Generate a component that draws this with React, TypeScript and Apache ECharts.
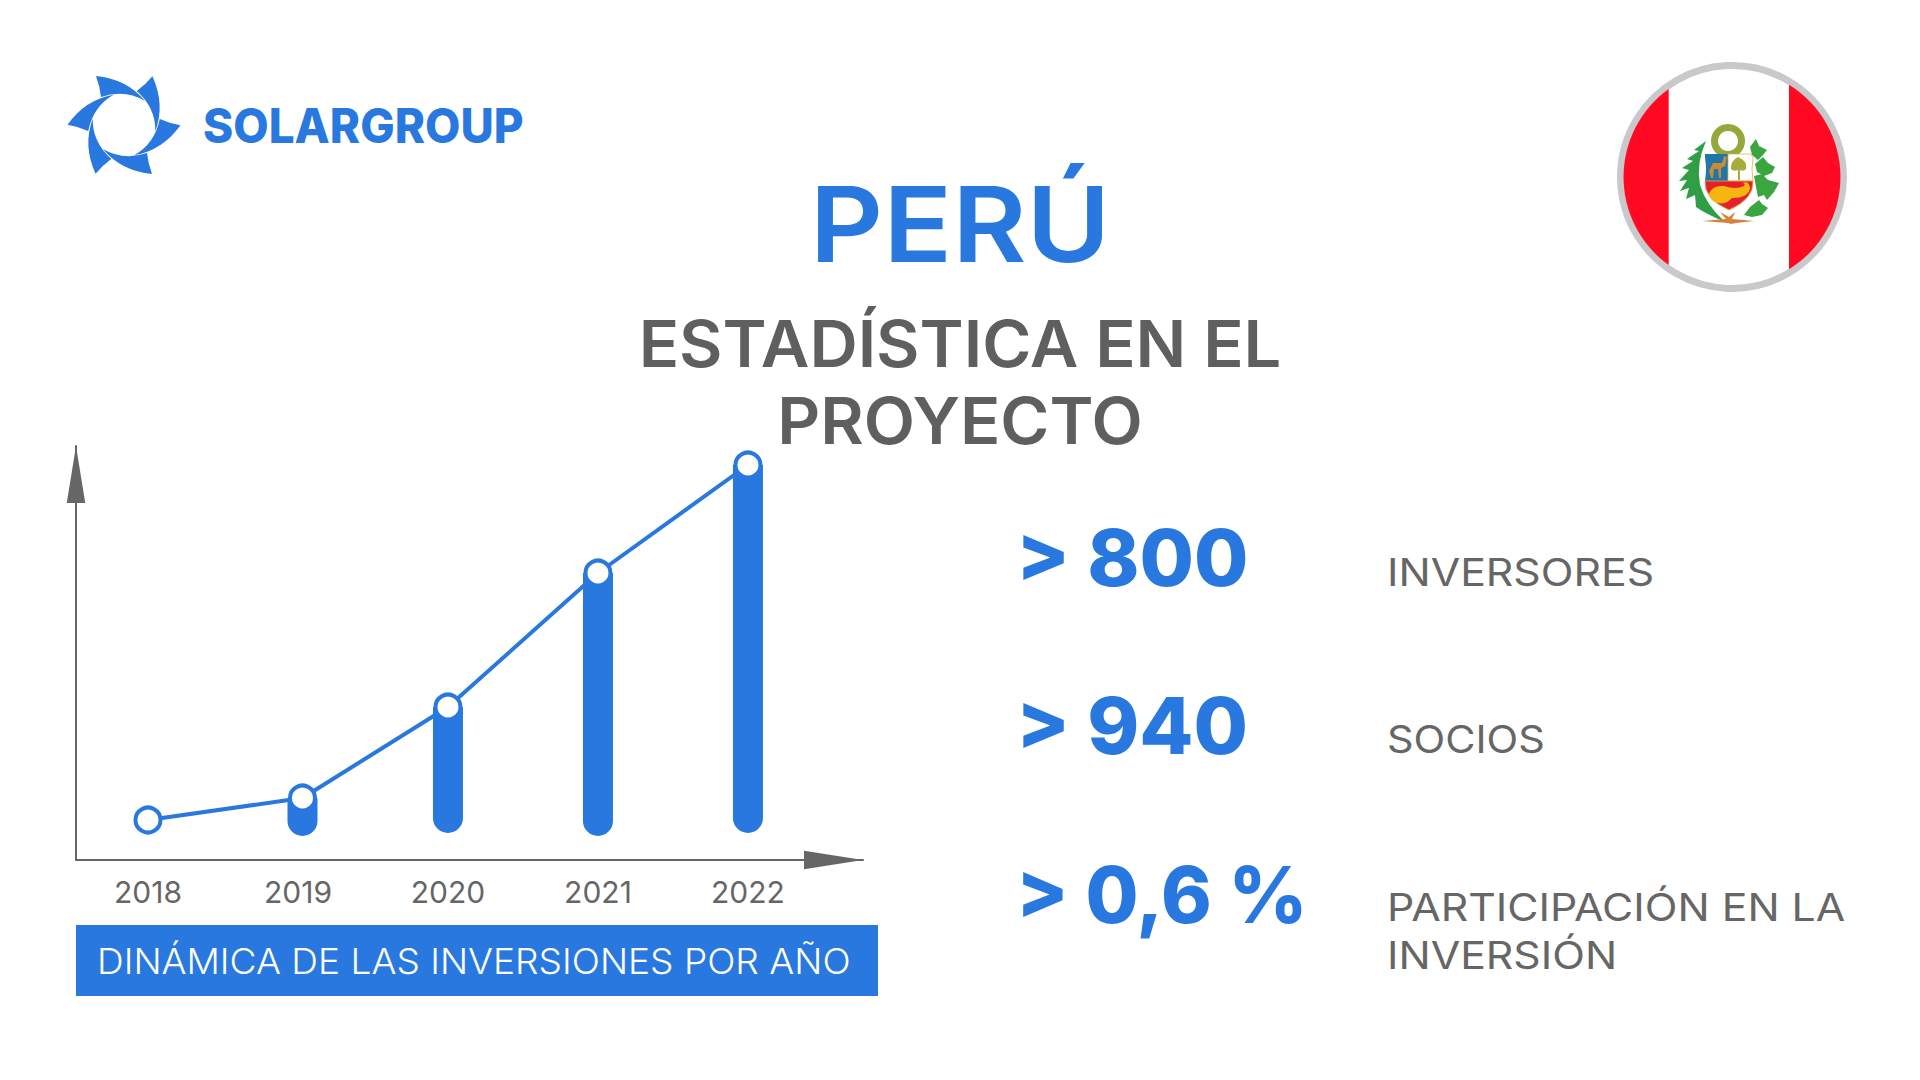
import React, { useEffect, useRef } from 'react';
import * as echarts from 'echarts';

const years = [2018, 2019, 2020, 2021, 2022];
// the 2019 mark sits a little right of its tick label in the picture
const markYears = [2018, 2019.03, 2020, 2021, 2022];
// pixel-read levels above the x axis, the picture has no y scale
const levels = [40, 62, 153, 287, 395];
const barFloors = [null, 24, 27, 24, 27];

const statValues = ['> 800', '> 940', '> 0,6 %'];
const statLabels = [['INVERSORES'], ['SOCIOS'], ['PARTICIPACIÓN EN LA', 'INVERSIÓN']];

const BLUE = '#2878e0';
const GREY = '#666666';
const FONT = 'Inter';

const r = (d: string) => echarts.graphic.extendPath(d, {});
echarts.graphic.registerShape('blade', r('M -28 -49 Q 3 -46 21 -24 Q 1 -36 -23 -28 Q -24 -38 -28 -49 Z'));
echarts.graphic.registerShape('flagLeft', r('M -63.3 -88.1 A 108.5 108.5 0 0 0 -63.3 88.1 Z'));
echarts.graphic.registerShape('flagRight', r('M 57 -92.3 A 108.5 108.5 0 0 1 57 92.3 Z'));
echarts.graphic.registerShape('shieldTop', r('M -27 -23 L -4 -23 L -4 4 L -27 4 Q -25 -8 -27 -19 Z'));
echarts.graphic.registerShape('shieldTopR', r('M -4 -23 L 19 -23 L 21 -19 Q 19 -8 21 4 L -4 4 Z'));
echarts.graphic.registerShape('shieldBottom', r('M -27 4 L 21 4 Q 22 22 -3 33 Q -28 22 -27 4 Z'));
echarts.graphic.registerShape('horn', r('M -23 17 Q -20 8 -8 9 Q 4 13 12 9 Q 14 6 10 6 Q 17 3 18 11 Q 17 21 0 21 Q -6 28 -14 26 Q -22 24 -23 17 Z'));
echarts.graphic.registerShape('vicuna', r('M -23 -6 L -19 -14 L -10 -14 L -8 -21 L -5 -20 L -7 -11 L -11 -9 L -11 1 L -13 1 L -14 -8 L -18 -8 L -19 1 L -21 1 Z'));
echarts.graphic.registerShape('tree', r('M 6 -20 Q 16 -16 14 -8 Q 11 -5 8 -7 L 8 3 L 6 3 L 6 -7 Q 2 -5 -1 -8 Q -2 -16 6 -20 Z'));
echarts.graphic.registerShape('palm', r('M -26 -36 L -38 -27 L -33 -26 L -45 -18 L -39 -16 L -50 -9 L -43 -7 L -53 4 L -45 3 L -52 14 L -43 11 L -46 22 L -37 18 L -36 30 Q -26 37 -7 45 Q -26 28 -32 8 Q -36 -14 -26 -36 Z'));
echarts.graphic.registerShape('laurel', r(
  'M 18 -30 L 24 -38 L 27 -31 L 35 -27 L 31 -22 L 26 -17 L 20 -22 Z ' +
  'M 23 -13 L 31 -20 L 36 -14 L 43 -10 L 40 -4 L 32 -1 L 25 -5 Z ' +
  'M 22 -1 L 30 -3 L 36 3 L 47 6 L 42 15 L 35 23 L 32 18 L 26 20 L 24 10 Z ' +
  'M 12 38 L 18 30 L 27 23 L 30 27 L 36 31 L 30 38 L 20 40 Z'
));
echarts.graphic.registerShape('ribbon', r('M -30 44 L -6 42 L -12 35 L -3 40 L 3 35 L 0 42 L 22 44 L 4 46 L -1 47 L -4 46 Z'));

// one left/center anchored text, sx stretches the fallback font to the reference's width
const text = (t: string, x: number, y: number, fontSize: number, fontWeight: number, fill: string, textAlign = 'left', sx = 1) => ({
  type: 'text',
  x,
  y,
  scaleX: sx,
  style: { text: t, fontSize, fontWeight, fontFamily: FONT, fill, textAlign, textVerticalAlign: 'middle' },
});

const App: React.FC = () => {
  const chartRef = useRef<HTMLDivElement>(null);

  useEffect(() => {
    if (!chartRef.current) return;
    const chart = echarts.init(chartRef.current, undefined, { renderer: 'svg' });

    const logo = [0, 1, 2, 3, 4, 5].map((i) => ({
      type: 'blade',
      x: 124,
      y: 125,
      rotation: (i * Math.PI) / 3,
      style: { fill: BLUE },
    }));

    const flag = {
      type: 'group',
      x: 1732,
      y: 177,
      children: [
        { type: 'circle', shape: { r: 111.5 }, style: { fill: '#ffffff', stroke: '#c9c9cc', lineWidth: 7 } },
        { type: 'flagLeft', style: { fill: '#ff0a22' } },
        { type: 'flagRight', style: { fill: '#ff0a22' } },
        { type: 'ring', shape: { cx: -4, cy: -36, r: 17, r0: 10 }, style: { fill: '#94a83c' } },
        { type: 'palm', style: { fill: '#2f9e44' } },
        { type: 'laurel', style: { fill: '#3ba53f' } },
        { type: 'shieldTop', style: { fill: '#1f77a8' } },
        { type: 'shieldTopR', style: { fill: '#ffffff', stroke: '#e3b23c', lineWidth: 0.8 } },
        { type: 'shieldBottom', style: { fill: '#e4202c', stroke: '#e3b23c', lineWidth: 0.8 } },
        { type: 'horn', style: { fill: '#f6b60f' } },
        { type: 'vicuna', style: { fill: '#c98a3a' } },
        { type: 'tree', style: { fill: '#a6ad3a' } },
        { type: 'ribbon', style: { fill: '#d9803a' } },
      ],
    };

    const statSx = [1.01, 1.01, 0.985];
    const statTexts = statValues.map((v, i) => text(v, 1016, [558, 726, 895][i], 78, 800, BLUE, 'left', statSx[i]));
    const labelYs = [[572], [740], [907, 955]];
    const labelSx = [1.125, 1.09, 1.125];
    const labelTexts = statLabels.flatMap((lines, i) =>
      lines.map((l, j) => text(l, 1387, labelYs[i][j], 38, 400, GREY, 'left', labelSx[i]))
    );

    chart.setOption({
      animation: false,
      grid: { left: 76, top: 446, width: 787, height: 414 },
      xAxis: {
        type: 'value',
        min: 2017.52,
        max: 2022.767,
        axisLine: {
          onZero: false,
          symbol: ['none', 'triangle'],
          symbolSize: [18.5, 59],
          symbolOffset: [0, -29.5],
          lineStyle: { color: GREY, width: 2 },
        },
        axisTick: { show: false },
        splitLine: { show: false },
        axisLabel: {
          customValues: years,
          formatter: (v: number) => String(v),
          color: GREY,
          fontFamily: FONT,
          fontSize: 30,
          margin: 17,
        },
      },
      yAxis: {
        type: 'value',
        min: 0,
        max: 414,
        axisLine: {
          show: true,
          onZero: false,
          symbol: ['none', 'triangle'],
          symbolSize: [18.5, 57],
          symbolOffset: [0, -28.5],
          lineStyle: { color: GREY, width: 2 },
        },
        axisTick: { show: false },
        axisLabel: { show: false },
        splitLine: { show: false },
      },
      series: [
        {
          // floating bars: they stop short of the x axis and have a round foot
          type: 'custom',
          encode: { x: 0, y: [1, 2] },
          renderItem: (_params: any, api: any) => {
            const foot = api.coord([api.value(0), api.value(1)]);
            const top = api.coord([api.value(0), api.value(2)]);
            return {
              type: 'rect',
              shape: { x: foot[0] - 15, y: top[1], width: 30, height: foot[1] - top[1], r: [0, 0, 15, 15] },
              style: { fill: BLUE },
            };
          },
          data: markYears
            .map((y, i) => [y, barFloors[i], levels[i]])
            .filter((row) => row[1] !== null),
        },
        {
          type: 'line',
          z: 5,
          symbol: 'circle',
          symbolSize: 25,
          lineStyle: { color: BLUE, width: 4 },
          itemStyle: { color: '#ffffff', borderColor: BLUE, borderWidth: 4 },
          data: markYears.map((y, i) => [y, levels[i]]),
        },
      ],
      graphic: [
        ...logo,
        text('SOLARGROUP', 203, 126, 48, 800, BLUE, 'left', 0.955),
        flag,
        text('PERÚ', 960, 224, 104, 600, BLUE, 'center', 1.095),
        text('ESTADÍSTICA EN EL', 960, 344, 64, 600, '#5f5f5f', 'center', 1.044),
        text('PROYECTO', 960, 421, 64, 600, '#5f5f5f', 'center', 1.042),
        { type: 'rect', shape: { x: 76, y: 925, width: 802, height: 71 }, style: { fill: BLUE } },
        text('DINÁMICA DE LAS INVERSIONES POR AÑO', 97, 961, 36, 300, '#ffffff', 'left', 1.03),
        ...statTexts,
        ...labelTexts,
      ],
    });

    return () => {
      chart.dispose();
    };
  }, []);

  return (
    <div
      ref={chartRef}
      style={{ position: 'fixed', left: 0, top: 0, width: 1920, height: 1080, background: '#ffffff' }}
    />
  );
};

export default App;
